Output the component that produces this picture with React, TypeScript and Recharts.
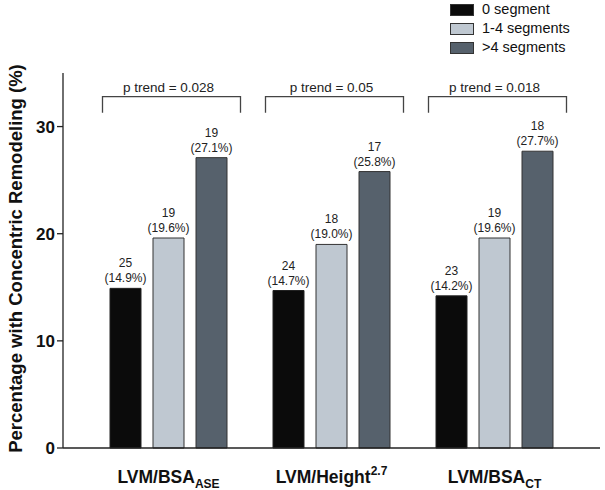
import { BarChart, Bar, XAxis, YAxis, Legend, LabelList } from 'recharts';

const categories = ['LVM/BSA|ASE|sub', 'LVM/Height|2.7|sup', 'LVM/BSA|CT|sub'];
const seriesNames = ['0 segment', '1-4 segments', '>4 segments'];
const zeroPct = [14.9, 14.7, 14.2];
const midPct = [19.6, 19.0, 19.6];
const highPct = [27.1, 25.8, 27.7];
const zeroN = [25, 24, 23];
const midN = [19, 18, 19];
const highN = [19, 17, 18];
const pTrend = ['p trend = 0.028', 'p trend = 0.05', 'p trend = 0.018'];
const yTicks = [0, 10, 20, 30];

const data = categories.map((c, i) => ({
  cat: c,
  zero: zeroPct[i],
  mid: midPct[i],
  high: highPct[i],
}));

const counts: Record<string, number[]> = { zero: zeroN, mid: midN, high: highN };
const colors = { zero: '#0b0b0b', mid: '#bfc8d1', high: '#56616c' };
const font = 'Liberation Sans, Arial, Helvetica, sans-serif';

const BAR = 31;
const GAP = 12;

function valueLabel(key: string) {
  return (props: any) => {
    const { x, y, width, index, value } = props;
    const cx = x + width / 2;
    return (
      <text x={cx} textAnchor="middle" fontSize={12} fill="#222" fontFamily={font}>
        <tspan x={cx} y={y - 21}>{counts[key][index]}</tspan>
        <tspan x={cx} y={y - 6}>({value.toFixed(1)}%)</tspan>
      </text>
    );
  };
}

function bracket(props: any) {
  const { x, y, height, value, index } = props;
  const k = height / value;
  const base = y + height;
  const center = x + (3 * BAR + 2 * GAP) / 2 + 3;
  const top = base - 32.8 * k;
  const bottom = base - 31.3 * k;
  const half = 69;
  return (
    <g>
      <path
        d={`M${center - half},${bottom} L${center - half},${top} L${center + half},${top} L${center + half},${bottom}`}
        fill="none"
        stroke="#444"
        strokeWidth={1.3}
      />
      <text x={center - 3} y={top - 5} textAnchor="middle" fontSize={13.5} fill="#222" fontFamily={font}>
        {pTrend[index]}
      </text>
    </g>
  );
}

function XTick(props: any) {
  const { x, y, payload } = props;
  const [main, extra, kind] = String(payload.value).split('|');
  return (
    <text x={x} y={y + 27} textAnchor="middle" fontSize={17.5} fontWeight="bold" fill="#111" fontFamily={font}>
      {main}
      <tspan fontSize={12} fontWeight="bold" dy={kind === 'sub' ? 5 : -8}>{extra}</tspan>
    </text>
  );
}

function LegendBox() {
  const items = [
    { name: seriesNames[0], color: colors.zero },
    { name: seriesNames[1], color: colors.mid },
    { name: seriesNames[2], color: colors.high },
  ];
  return (
    <div style={{ fontFamily: font, fontSize: 14.5, color: '#111', lineHeight: '19px' }}>
      {items.map((it) => (
        <div key={it.name} style={{ display: 'flex', alignItems: 'center', height: 19 }}>
          <div style={{ width: 22, height: 10, background: it.color, border: '1px solid #333', marginRight: 8 }} />
          <span>{it.name}</span>
        </div>
      ))}
    </div>
  );
}

export default function App() {
  return (
    <div style={{ position: 'absolute', left: 0, top: 0, background: '#fff' }}>
      <BarChart
        width={605}
        height={490}
        data={data}
        barSize={BAR}
        barGap={GAP}
        margin={{ top: 73, right: 5, left: 0, bottom: 5 }}
      >
        <XAxis
          dataKey="cat"
          padding={{ left: 24, right: 24 }}
          tickLine={false}
          axisLine={{ stroke: '#222', strokeWidth: 1.3 }}
          tick={<XTick />}
          height={37}
          interval={0}
        />
        <YAxis
          domain={[0, 35]}
          ticks={yTicks}
          width={63}
          tickSize={6}
          axisLine={{ stroke: '#222', strokeWidth: 1.3 }}
          tickLine={{ stroke: '#222', strokeWidth: 1.3 }}
          tick={{ fontSize: 17, fontWeight: 'bold', fill: '#111', fontFamily: font }}
          label={{
            content: (p: any) => {
              const vb = p.viewBox;
              const cy = vb.y + vb.height / 2 - 2;
              return (
                <text
                  x={17}
                  y={cy}
                  transform={`rotate(-90, 17, ${cy})`}
                  textAnchor="middle"
                  dominantBaseline="middle"
                  fontSize={18.5}
                  fontWeight="bold"
                  fill="#111"
                  fontFamily={font}
                >
                  Percentage with Concentric Remodeling (%)
                </text>
              );
            },
          }}
        />
        <Legend
          content={<LegendBox />}
          layout="horizontal"
          verticalAlign="middle"
          align="center"
          wrapperStyle={{ position: 'absolute', top: 0, left: 450, width: 155 }}
        />
        <Bar dataKey="zero" name={seriesNames[0]} fill={colors.zero} stroke="#222" isAnimationActive={false}>
          <LabelList dataKey="zero" content={valueLabel('zero')} />
          <LabelList dataKey="zero" content={bracket} />
        </Bar>
        <Bar dataKey="mid" name={seriesNames[1]} fill={colors.mid} stroke="#333" isAnimationActive={false}>
          <LabelList dataKey="mid" content={valueLabel('mid')} />
        </Bar>
        <Bar dataKey="high" name={seriesNames[2]} fill={colors.high} stroke="#333" isAnimationActive={false}>
          <LabelList dataKey="high" content={valueLabel('high')} />
        </Bar>
      </BarChart>
    </div>
  );
}
